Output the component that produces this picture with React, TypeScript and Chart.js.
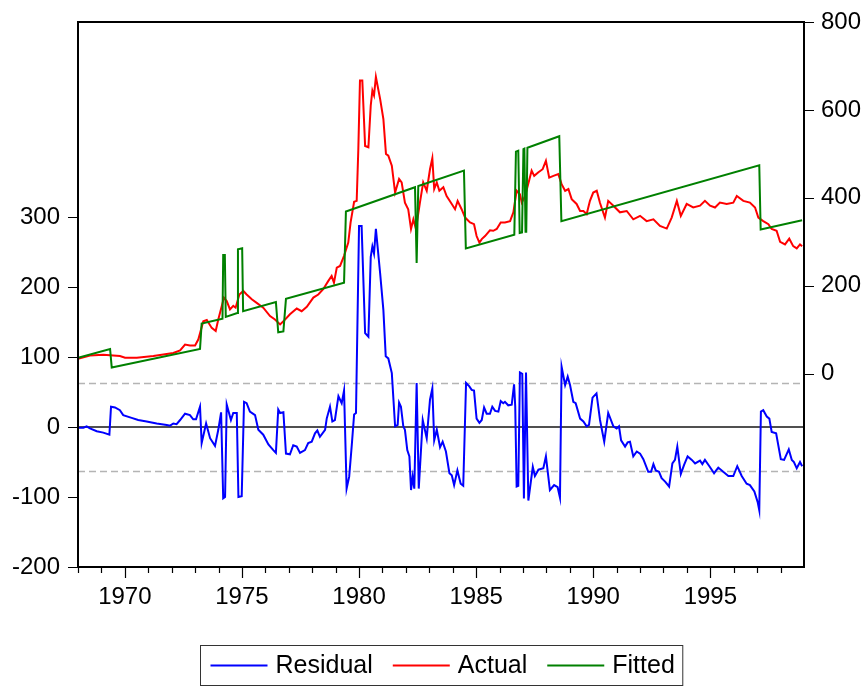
import React, { useEffect, useRef } from 'react';
import { Chart, registerables } from 'chart.js';

Chart.register(...registerables);

// [decimal year, value]
const actual: [number, number][] = [
  [1968.0, 34], [1968.51, 41], [1969.08, 43], [1969.79, 40], [1970.01, 36], [1970.51, 36],
  [1971.22, 40], [1972.07, 47], [1972.36, 53], [1972.57, 66], [1972.78, 64], [1973.0, 64],
  [1973.14, 78], [1973.35, 119], [1973.5, 122], [1973.71, 104], [1973.88, 97], [1973.99, 123],
  [1974.14, 154], [1974.23, 173], [1974.35, 165], [1974.49, 146], [1974.63, 154], [1974.73, 150],
  [1974.89, 180], [1975.06, 188], [1975.2, 180], [1975.42, 169], [1975.63, 161], [1975.91, 150],
  [1976.2, 131], [1976.41, 123], [1976.63, 112], [1976.77, 119], [1977.05, 135], [1977.34, 148],
  [1977.55, 142], [1977.77, 152], [1978.05, 173], [1978.26, 180], [1978.47, 192], [1978.69, 211],
  [1978.83, 222], [1978.93, 207], [1979.05, 241], [1979.19, 245], [1979.36, 268], [1979.54, 298],
  [1979.64, 344], [1979.79, 391], [1979.9, 393], [1979.97, 511], [1980.04, 667], [1980.14, 667],
  [1980.26, 518], [1980.4, 515], [1980.5, 610], [1980.57, 644], [1980.64, 633], [1980.72, 675],
  [1980.9, 625], [1981.04, 579], [1981.15, 500], [1981.25, 496], [1981.4, 473], [1981.54, 412],
  [1981.71, 443], [1981.82, 435], [1981.96, 389], [1982.1, 374], [1982.22, 329], [1982.32, 351],
  [1982.43, 329], [1982.6, 389], [1982.74, 435], [1982.89, 416], [1983.03, 465], [1983.13, 490],
  [1983.21, 420], [1983.32, 435], [1983.43, 416], [1983.6, 424], [1983.74, 404], [1983.96, 386],
  [1984.1, 374], [1984.21, 393], [1984.38, 374], [1984.53, 355], [1984.74, 344], [1984.91, 340],
  [1985.02, 313], [1985.14, 298], [1985.24, 306], [1985.38, 313], [1985.59, 326], [1985.73, 325],
  [1985.88, 329], [1986.05, 344], [1986.23, 344], [1986.45, 347], [1986.59, 367], [1986.73, 416],
  [1986.87, 408], [1986.95, 389], [1987.09, 404], [1987.26, 439], [1987.37, 462], [1987.48, 450],
  [1987.66, 458], [1987.84, 465], [1987.98, 484], [1988.12, 446], [1988.3, 450], [1988.51, 454],
  [1988.65, 431], [1988.8, 416], [1988.94, 420], [1989.08, 397], [1989.29, 386], [1989.44, 370],
  [1989.58, 370], [1989.72, 363], [1989.86, 393], [1990.0, 412], [1990.15, 416], [1990.29, 388],
  [1990.5, 355], [1990.64, 393], [1990.86, 382], [1991.14, 367], [1991.43, 370], [1991.71, 351],
  [1992.0, 359], [1992.28, 347], [1992.57, 351], [1992.85, 336], [1993.14, 330], [1993.35, 355],
  [1993.57, 393], [1993.74, 359], [1993.99, 386], [1994.27, 378], [1994.56, 382], [1994.77, 393],
  [1994.99, 382], [1995.2, 378], [1995.41, 389], [1995.7, 386], [1995.98, 389], [1996.13, 404],
  [1996.41, 393], [1996.69, 389], [1996.91, 378], [1997.05, 355], [1997.26, 347], [1997.48, 340],
  [1997.62, 329], [1997.83, 325], [1997.98, 300], [1998.19, 294], [1998.37, 307], [1998.54, 290],
  [1998.69, 285], [1998.83, 294], [1998.92, 290],
];

const fitted: [number, number][] = [
  [1968.0, 36], [1969.37, 56], [1969.44, 14], [1973.21, 56], [1973.28, 114], [1974.17, 125],
  [1974.2, 270], [1974.27, 270], [1974.31, 129], [1974.8, 138], [1974.83, 283], [1975.01, 285],
  [1975.05, 142], [1976.45, 163], [1976.55, 94], [1976.77, 96], [1976.88, 170], [1979.36, 207],
  [1979.44, 369], [1982.39, 424], [1982.46, 252], [1982.53, 427], [1984.48, 462], [1984.56, 285],
  [1986.63, 316], [1986.7, 505], [1986.8, 507], [1986.86, 320], [1986.96, 321], [1987.02, 511],
  [1987.06, 512], [1987.11, 323], [1987.14, 323], [1987.19, 514], [1988.55, 540], [1988.64, 347],
  [1997.09, 474], [1997.15, 328], [1998.92, 349],
];

const residual: [number, number][] = [
  [1968.0, -1], [1968.23, -1], [1968.37, 1], [1968.51, -2], [1968.8, -6], [1969.08, -8],
  [1969.34, -11], [1969.41, 29], [1969.58, 28], [1969.79, 24], [1969.93, 17], [1970.29, 13],
  [1970.57, 10], [1970.93, 8], [1971.36, 5], [1971.79, 3], [1971.93, 2], [1972.07, 5],
  [1972.21, 4], [1972.36, 10], [1972.57, 19], [1972.78, 17], [1972.92, 11], [1973.04, 11],
  [1973.21, 29], [1973.28, -23], [1973.47, 5], [1973.64, -16], [1973.85, -27], [1973.99, -4],
  [1974.11, 21], [1974.2, -102], [1974.28, -100], [1974.35, 32], [1974.53, 10], [1974.63, 20],
  [1974.78, 20], [1974.85, -100], [1974.99, -99], [1975.09, 36], [1975.2, 34], [1975.34, 22],
  [1975.56, 17], [1975.7, -4], [1975.91, -11], [1976.13, -25], [1976.34, -33], [1976.45, -37],
  [1976.55, 25], [1976.63, 20], [1976.77, 21], [1976.88, -38], [1977.05, -39], [1977.19, -26],
  [1977.34, -28], [1977.48, -37], [1977.69, -33], [1977.83, -23], [1977.98, -21], [1978.12, -9],
  [1978.22, -5], [1978.33, -14], [1978.55, -4], [1978.62, 12], [1978.76, 29], [1978.86, 8],
  [1978.97, 10], [1979.12, 44], [1979.26, 34], [1979.36, 52], [1979.47, -88], [1979.58, -71],
  [1979.69, -26], [1979.79, 18], [1979.87, 20], [1980.0, 287], [1980.11, 287], [1980.26, 134],
  [1980.4, 129], [1980.5, 243], [1980.57, 258], [1980.64, 248], [1980.72, 283], [1980.9, 220],
  [1981.04, 167], [1981.14, 101], [1981.25, 98], [1981.4, 77], [1981.54, 1], [1981.65, 3],
  [1981.71, 35], [1981.79, 29], [1981.89, 1], [1981.96, -4], [1982.06, -33], [1982.15, -42],
  [1982.22, -90], [1982.29, -71], [1982.36, -88], [1982.46, 63], [1982.55, -88], [1982.72, 10],
  [1982.89, -16], [1983.03, 39], [1983.13, 55], [1983.21, -19], [1983.32, -4], [1983.46, -29],
  [1983.57, -21], [1983.71, -35], [1983.86, -66], [1983.96, -69], [1984.06, -83], [1984.2, -62],
  [1984.34, -81], [1984.45, -84], [1984.57, 63], [1984.71, 58], [1984.81, 53], [1984.91, 52],
  [1985.02, 12], [1985.14, 6], [1985.24, 10], [1985.34, 28], [1985.45, 19], [1985.59, 19],
  [1985.69, 29], [1985.81, 23], [1985.95, 22], [1986.05, 37], [1986.16, 34], [1986.23, 36],
  [1986.37, 31], [1986.52, 32], [1986.62, 61], [1986.67, 29], [1986.73, -85], [1986.8, -84],
  [1986.87, 78], [1986.97, 76], [1987.04, -102], [1987.13, 78], [1987.23, -105], [1987.42, -57],
  [1987.51, -70], [1987.66, -61], [1987.87, -59], [1987.98, -42], [1988.15, -90], [1988.33, -83],
  [1988.48, -86], [1988.58, -101], [1988.65, 86], [1988.8, 60], [1988.91, 72], [1989.01, 60],
  [1989.15, 36], [1989.25, 34], [1989.44, 12], [1989.58, 8], [1989.72, 1], [1989.82, 3],
  [1989.97, 42], [1990.14, 48], [1990.29, 10], [1990.47, -21], [1990.64, 20], [1990.86, 1],
  [1991.0, -2], [1991.1, 1], [1991.19, -19], [1991.36, -28], [1991.47, -22], [1991.57, -21],
  [1991.71, -42], [1991.86, -35], [1992.0, -38], [1992.14, -46], [1992.35, -64], [1992.47, -64],
  [1992.57, -53], [1992.67, -62], [1992.81, -64], [1992.92, -73], [1993.07, -78], [1993.24, -85],
  [1993.38, -52], [1993.49, -47], [1993.59, -28], [1993.74, -67], [1993.88, -54], [1994.03, -42],
  [1994.21, -47], [1994.35, -52], [1994.56, -48], [1994.66, -53], [1994.77, -47], [1994.96, -56],
  [1995.16, -66], [1995.34, -58], [1995.55, -64], [1995.77, -70], [1995.98, -70], [1996.15, -56],
  [1996.34, -70], [1996.55, -81], [1996.69, -83], [1996.88, -92], [1997.02, -107], [1997.09, -119],
  [1997.16, 22], [1997.26, 24], [1997.41, 15], [1997.52, 12], [1997.62, -7], [1997.81, -9],
  [1998.01, -46], [1998.15, -47], [1998.35, -32], [1998.48, -47], [1998.57, -50], [1998.69, -59],
  [1998.83, -50], [1998.92, -56],
];

const seriesNames = ['Residual', 'Actual', 'Fitted'];
const seriesColors = ['#0000ff', '#ff0000', '#008000'];

const residualTicks = [-200, -100, 0, 100, 200, 300];
const levelTicks = [0, 200, 400, 600, 800];
const residualBand = 63; // one standard error of the regression

const FONT = '"Liberation Sans", Arial, Helvetica, sans-serif';

const toXY = (rows: [number, number][]) => rows.map(([x, y]) => ({ x, y }));

// Keep the axes from reserving extra room around their end labels.
const noEdgePadding = (s: any) => {
  s.paddingTop = 0;
  s.paddingBottom = 0;
  s.paddingLeft = 0;
  s.paddingRight = 0;
};

const decorPlugin = {
  id: 'eviewsDecor',
  beforeDatasetsDraw(chart: any) {
    const { ctx, chartArea: a, scales } = chart;
    const yRes = scales.yRes;
    ctx.save();
    ctx.beginPath();
    ctx.rect(a.left, a.top, a.right - a.left, a.bottom - a.top);
    ctx.clip();
    ctx.strokeStyle = '#b4b4b4';
    ctx.lineWidth = 1.6;
    ctx.setLineDash([7, 4]);
    for (const v of [residualBand, -residualBand]) {
      const py = Math.round(yRes.getPixelForValue(v)) + 0.5;
      ctx.beginPath();
      ctx.moveTo(a.left, py);
      ctx.lineTo(a.right, py);
      ctx.stroke();
    }
    ctx.setLineDash([]);
    ctx.strokeStyle = '#505050';
    ctx.lineWidth = 2;
    const zy = Math.round(yRes.getPixelForValue(0));
    ctx.beginPath();
    ctx.moveTo(a.left, zy);
    ctx.lineTo(a.right, zy);
    ctx.stroke();
    ctx.restore();
  },
  afterDraw(chart: any) {
    const { ctx, chartArea: a, scales } = chart;
    ctx.save();
    // frame
    ctx.strokeStyle = '#000';
    ctx.lineWidth = 2;
    ctx.strokeRect(a.left, a.top, a.right - a.left, a.bottom - a.top);

    // tick marks
    ctx.lineWidth = 1.2;
    ctx.beginPath();
    for (let yr = 1968; yr <= 1998; yr++) {
      const px = Math.round(scales.x.getPixelForValue(yr)) + 0.5;
      const len = yr % 5 === 0 ? 11 : 6;
      ctx.moveTo(px, a.bottom);
      ctx.lineTo(px, a.bottom + len);
    }
    for (const v of residualTicks) {
      const py = Math.round(scales.yRes.getPixelForValue(v)) + 0.5;
      ctx.moveTo(a.left, py);
      ctx.lineTo(a.left - 10, py);
    }
    for (const v of levelTicks) {
      const py = Math.round(scales.yLvl.getPixelForValue(v)) + 0.5;
      ctx.moveTo(a.right, py);
      ctx.lineTo(a.right + 10, py);
    }
    ctx.stroke();

    // legend
    ctx.font = `25px ${FONT}`;
    const padL = 10, lineLen = 57, gap = 8, itemGap = 20, padR = 8;
    const widths = seriesNames.map((n) => ctx.measureText(n).width);
    const total = padL + padR + widths.reduce((s, w) => s + lineLen + gap + w, 0) + itemGap * (seriesNames.length - 1);
    const cx = (a.left + a.right) / 2;
    const bx = Math.round(cx - total / 2) + 0.5;
    const by = 645.5;
    const bh = 40;
    ctx.lineWidth = 1;
    ctx.strokeStyle = '#333';
    ctx.strokeRect(bx, by, total, bh);
    const midY = by + bh / 2;
    let x = bx + padL;
    ctx.textBaseline = 'middle';
    ctx.textAlign = 'left';
    seriesNames.forEach((n, i) => {
      ctx.strokeStyle = seriesColors[i];
      ctx.lineWidth = 2;
      ctx.beginPath();
      ctx.moveTo(x, midY);
      ctx.lineTo(x + lineLen, midY);
      ctx.stroke();
      x += lineLen + gap;
      ctx.fillStyle = '#000';
      ctx.fillText(n, x, midY + 1);
      x += widths[i] + itemGap;
    });
    ctx.restore();
  },
};

export default function App() {
  const canvasRef = useRef<HTMLCanvasElement | null>(null);

  useEffect(() => {
    const canvas = canvasRef.current;
    if (!canvas) return;
    const tickFont = { family: FONT, size: 24 };
    const chart = new Chart(canvas, {
      type: 'line',
      data: {
        datasets: [
          {
            label: seriesNames[2],
            data: toXY(fitted),
            borderColor: seriesColors[2],
            yAxisID: 'yLvl',
          },
          {
            label: seriesNames[1],
            data: toXY(actual),
            borderColor: seriesColors[1],
            yAxisID: 'yLvl',
          },
          {
            label: seriesNames[0],
            data: toXY(residual),
            borderColor: seriesColors[0],
            yAxisID: 'yRes',
          },
        ],
      },
      options: {
        responsive: false,
        animation: false,
        layout: { padding: { top: 22, left: 0, right: 0, bottom: 0 } },
        elements: {
          point: { radius: 0, hoverRadius: 0 },
          line: { borderWidth: 2, tension: 0, fill: false },
        },
        plugins: {
          legend: { display: false },
          tooltip: { enabled: false },
        },
        scales: {
          x: {
            type: 'linear',
            min: 1968,
            max: 1999,
            grid: { display: false, drawTicks: false },
            border: { display: false },
            ticks: {
              stepSize: 1,
              autoSkip: false,
              maxRotation: 0,
              padding: 16,
              color: '#000',
              font: tickFont,
              callback: (v: any) => (Math.round(Number(v)) % 5 === 0 ? String(Math.round(Number(v))) : ''),
            },
            afterFit: (s: any) => { s.height = 120; noEdgePadding(s); },
          },
          yRes: {
            type: 'linear',
            position: 'left',
            min: -200,
            max: 578.6,
            grid: { display: false, drawTicks: false },
            border: { display: false },
            ticks: { padding: 18, color: '#000', font: tickFont },
            afterBuildTicks: (s: any) => { s.ticks = residualTicks.map((value) => ({ value })); },
            afterFit: (s: any) => { s.width = 78; noEdgePadding(s); },
          },
          yLvl: {
            type: 'linear',
            position: 'right',
            min: -440,
            max: 800,
            grid: { display: false, drawTicks: false },
            border: { display: false },
            ticks: { padding: 17, color: '#000', font: tickFont },
            afterBuildTicks: (s: any) => { s.ticks = levelTicks.map((value) => ({ value })); },
            afterFit: (s: any) => { s.width = 64; noEdgePadding(s); },
          },
        },
      },
      plugins: [decorPlugin],
    });
    return () => chart.destroy();
  }, []);

  return (
    <div style={{ position: 'absolute', left: 0, top: 0, width: 868, height: 687, background: '#fff' }}>
      <canvas ref={canvasRef} width={868} height={687} style={{ display: 'block' }} />
    </div>
  );
}
